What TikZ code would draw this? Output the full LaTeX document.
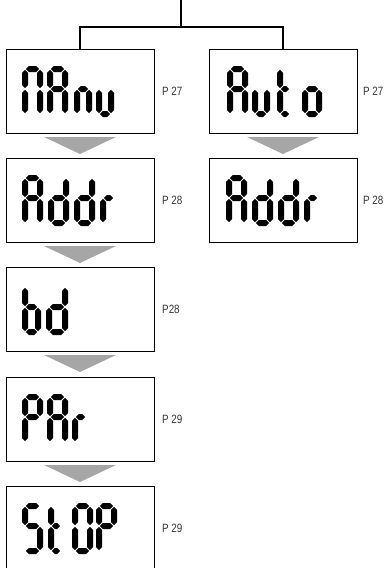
\documentclass[tikz,border=0pt]{standalone}
\usepackage{fontspec}
\setmainfont{Liberation Sans}
\usetikzlibrary{calc}
\definecolor{arrgray}{HTML}{A6A6A6}
\definecolor{lblgray}{HTML}{333333}
\tikzset{
  lcd/.style={draw, line width=1pt, minimum width=148pt, minimum height=84pt, inner sep=0pt, outer sep=0pt},
  lbl/.style={anchor=west, text=lblgray, inner sep=0pt, font=\fontsize{12}{12}\selectfont},
  tree/.style={line width=1.8pt},
  arr/.style={fill=arrgray, draw=none}
}
% seven-segment helpers
\def\dghh{3.0}
\def\dggp{0.8}
\newcommand\dghseg[3]{\fill ({#1},{#3}) -- ({#1+\dghh},{#3-\dghh}) -- ({#2-\dghh},{#3-\dghh}) -- ({#2},{#3}) -- ({#2-\dghh},{#3+\dghh}) -- ({#1+\dghh},{#3+\dghh}) -- cycle;}
\newcommand\dgvseg[3]{\fill ({#3},{#1}) -- ({#3+\dghh},{#1+\dghh}) -- ({#3+\dghh},{#2-\dghh}) -- ({#3},{#2}) -- ({#3-\dghh},{#2-\dghh}) -- ({#3-\dghh},{#1+\dghh}) -- cycle;}
\newcommand\dg[4]{%
  \pgfmathsetmacro\dgxl{#1+\dghh}%
  \pgfmathsetmacro\dgxr{#1+#3-\dghh}%
  \pgfmathsetmacro\dgyt{#2+\dghh}%
  \pgfmathsetmacro\dgym{#2+23}%
  \pgfmathsetmacro\dgyb{#2+51-\dghh}%
  #4}
\newcommand\sgA{\dghseg{\dgxl+\dggp}{\dgxr-\dggp}{\dgyt}}
\newcommand\sgB{\dgvseg{\dgyt+\dggp}{\dgym-\dggp}{\dgxr}}
\newcommand\sgC{\dgvseg{\dgym+\dggp}{\dgyb-\dggp}{\dgxr}}
\newcommand\sgD{\dghseg{\dgxl+\dggp}{\dgxr-\dggp}{\dgyb}}
\newcommand\sgE{\dgvseg{\dgym+\dggp}{\dgyb-\dggp}{\dgxl}}
\newcommand\sgF{\dgvseg{\dgyt+\dggp}{\dgym-\dggp}{\dgxl}}
\newcommand\sgG{\dghseg{\dgxl+\dggp}{\dgxr-\dggp}{\dgym}}
\begin{document}
\begin{tikzpicture}[x=1pt,y=-1pt]
\useasboundingbox (0,0) rectangle (386,568);
\clip (0,0) rectangle (386,568);
% boxes
\node[lcd] (m1) at (80,91) {};
\node[lcd] (m2) at (80,200) {};
\node[lcd] (m3) at (80,309) {};
\node[lcd] (m4) at (80,419) {};
\node[lcd] (m5) at (80,528) {};
\node[lcd] (a1) at (283,91) {};
\node[lcd] (a2) at (283,200) {};
% tree
\coordinate (root) at (181,0);
\coordinate (split) at (181,27);
\draw[tree] (root) -- (split);
\draw[tree] (m1.north) |- (split) -| (a1.north);
% arrows
\foreach \b in {m1,m2,m3,m4,a1}{
  \fill[arr] ($(\b.south)+(-36,4)$) -- ($(\b.south)+(36,4)$) -- ($(\b.south)+(0,21)$) -- cycle;
}
% labels
\node[lbl] (l1) at (162,91) {\scalebox{0.82}[1]{P 27}};
\node[lbl] (l2) at (162,200) {\scalebox{0.82}[1]{P 28}};
\node[lbl] (l3) at (162,309) {\scalebox{0.82}[1]{P28}};
\node[lbl] (l4) at (162,419) {\scalebox{0.82}[1]{P 29}};
\node[lbl] (l5) at (162,528) {\scalebox{0.82}[1]{P 29}};
\node[lbl] (r1) at (363,91) {\scalebox{0.82}[1]{P 27}};
\node[lbl] (r2) at (363,200) {\scalebox{0.82}[1]{P 28}};
% MAnu
\dg{22}{66}{21}{\sgA\sgB\sgC\sgE\sgF}
\dg{47}{66}{21}{\sgA\sgB\sgC\sgE\sgF\sgG}
\dg{74}{66}{18}{\sgC\sgE\sgG}
\dg{96}{66}{18}{\sgC\sgD\sgE}
% Addr
\dg{22}{175}{21}{\sgA\sgB\sgC\sgE\sgF\sgG}
\dg{48}{175}{21}{\sgB\sgC\sgD\sgE\sgG}
\dg{74}{175}{21}{\sgB\sgC\sgD\sgE\sgG}
\dg{100}{175}{17}{\sgE\sgG}
% bd
\dg{22}{284}{19}{\sgC\sgD\sgE\sgF\sgG}
\dg{46}{284}{22}{\sgB\sgC\sgD\sgE\sgG}
% PAr
\dg{22}{394}{21}{\sgA\sgB\sgE\sgF\sgG}
\dg{47}{394}{21}{\sgA\sgB\sgC\sgE\sgF\sgG}
\dg{72}{394}{17}{\sgE\sgG}
% StOP
\dg{22}{503}{21}{\sgA\sgF\sgG\sgC\sgD}
\dg{48}{503}{16}{\sgF\sgE\sgG\sgD}
\dg{72}{503}{21}{\sgA\sgB\sgC\sgD\sgE\sgF}
\dg{96}{503}{21}{\sgA\sgB\sgE\sgF\sgG}
% Auto
\dg{227}{66}{21}{\sgA\sgB\sgC\sgE\sgF\sgG}
\dg{252}{66}{18}{\sgC\sgD\sgE}
\dg{277}{66}{16}{\sgF\sgE\sgG\sgD}
\dg{302}{66}{20}{\sgC\sgD\sgE\sgG}
% Addr (right)
\dg{226}{175}{21}{\sgA\sgB\sgC\sgE\sgF\sgG}
\dg{252}{175}{21}{\sgB\sgC\sgD\sgE\sgG}
\dg{278}{175}{21}{\sgB\sgC\sgD\sgE\sgG}
\dg{304}{175}{17}{\sgE\sgG}
\end{tikzpicture}
\end{document}
